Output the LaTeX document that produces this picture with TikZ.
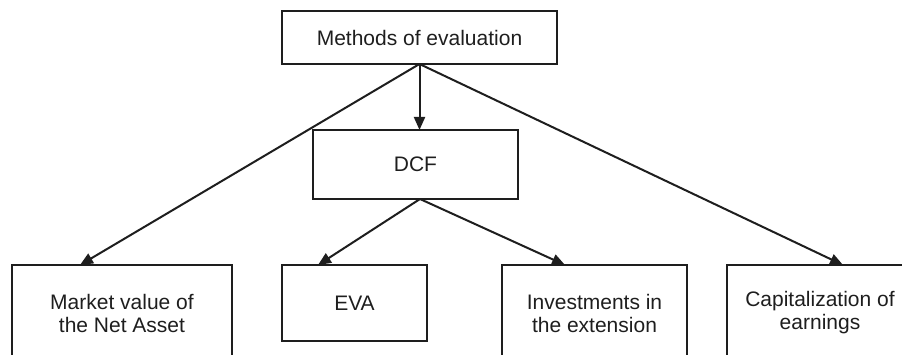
\documentclass[tikz,border=0pt]{standalone}
\usepackage{fontspec}
\setmainfont{Liberation Sans}
\usetikzlibrary{arrows.meta,calc}
\definecolor{ink}{HTML}{1E1E1E}
\begin{document}
\begin{tikzpicture}[x=1pt,y=-1pt,
  box/.style={draw=ink,line width=1.2pt,rectangle,inner sep=0pt,outer sep=0pt,
    text=ink,align=center,font=\fontsize{21}{23}\selectfont},
  conn/.style={draw=ink,line width=2pt,-{Triangle[length=13pt,width=11pt]}}]
\useasboundingbox (0,0) rectangle (902,355);
\clip (0,0) rectangle (902,355);
\node[box,minimum width=275pt,minimum height=53pt] (top) at (419.5,37.5) {Methods of evaluation};
\node[box,minimum width=205pt,minimum height=69pt] (dcf) at (415.5,164.5) {DCF};
\node[box,minimum width=220pt,minimum height=96pt] (mkt) at (122,313) {Market value of\\the Net Asset};
\node[box,minimum width=145pt,minimum height=76pt] (eva) at (354.5,303) {EVA};
\node[box,minimum width=185pt,minimum height=96pt] (inv) at (594.5,313) {Investments in\\the extension};
\node[box,minimum width=186pt,minimum height=96pt] (cap) at (820,313) {Capitalization of\\earnings};
\draw[conn] (top.south) -- (top.south |- dcf.north);
\draw[conn] (top.south) -- ([xshift=68pt]mkt.north west);
\draw[conn] (top.south) -- ([xshift=116pt]cap.north west);
\draw[conn] ([xshift=4.5pt]dcf.south) -- ([xshift=36pt]eva.north west);
\draw[conn] ([xshift=4.5pt]dcf.south) -- ([xshift=63pt]inv.north west);
\end{tikzpicture}
\end{document}
